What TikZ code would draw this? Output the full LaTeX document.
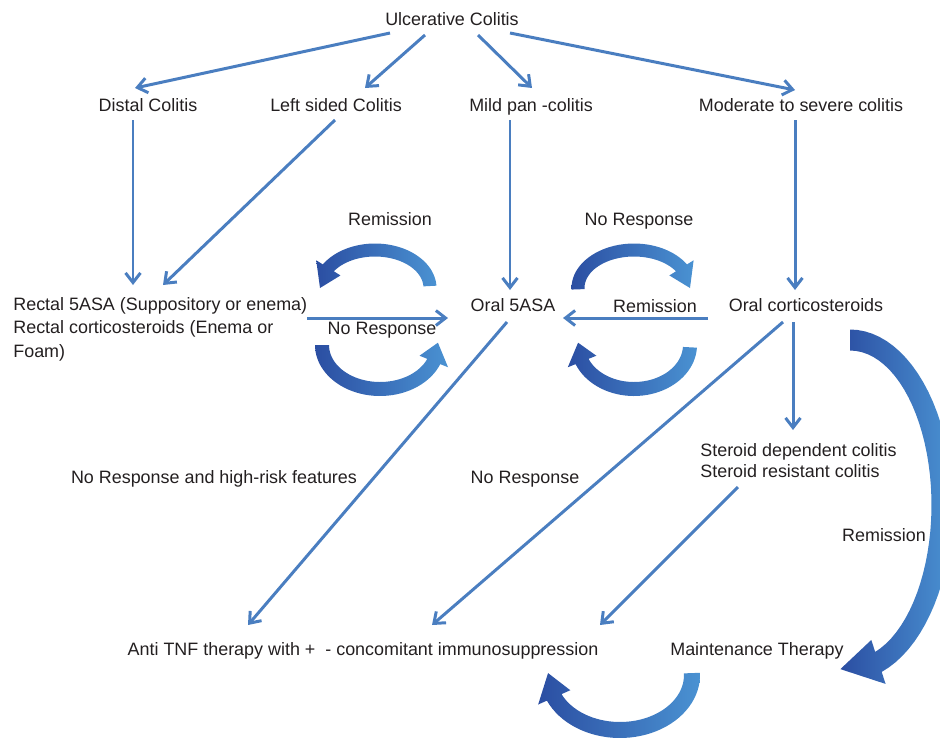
\documentclass[tikz,border=0pt]{standalone}
\usepackage{fontspec}
\setmainfont{Liberation Sans}
\usetikzlibrary{arrows.meta, calc}
\definecolor{flowblue}{HTML}{4A7EC0}
\definecolor{arcdark}{HTML}{2B4EA2}
\definecolor{arclight}{HTML}{4A92D2}
\definecolor{inktext}{HTML}{231F20}

% fat shaded arc arrow: cx, cy, rx, ry, width, start angle, head angle, tip angle
\newcommand{\fatarc}[8]{%
  \shade[left color=arcdark, right color=arclight]
    plot[domain=#6:#7, samples=40] ({#1+(#3+#5/2)*cos(\x)}, {#2+(#4+#5/2)*sin(\x)})
    -- ({#1+(#3+#5*1.1)*cos(#7)}, {#2+(#4+#5*1.1)*sin(#7)})
    -- ({#1+#3*cos(#8)}, {#2+#4*sin(#8)})
    -- ({#1+(#3-#5*1.1)*cos(#7)}, {#2+(#4-#5*1.1)*sin(#7)})
    -- plot[domain=#7:#6, samples=40] ({#1+(#3-#5/2)*cos(\x)}, {#2+(#4-#5/2)*sin(\x)})
    -- cycle;}

\begin{document}
\begin{tikzpicture}[x=0.02cm, y=-0.02cm,
    lbl/.style={inner sep=0pt, text=inktext, font=\fontsize{10.2}{13.3}\selectfont},
    one/.style={lbl, text height=7.4pt, text depth=0.5pt},
    flow/.style={draw=flowblue, line width=1.7pt, -{Straight Barb[length=5.5pt, width=8.5pt]}}]
  \useasboundingbox (0,0) rectangle (940,738);

  % Nodes
  \node[one] (uc) at (452,19) {Ulcerative Colitis};
  \node[one] (distal) at (148,105) {Distal Colitis};
  \node[one] (leftsided) at (336,105) {Left sided Colitis};
  \node[one] (mildpan) at (531,105) {Mild pan -colitis};
  \node[one] (modsevere) at (801,105) {Moderate to severe colitis};
  \node[lbl, align=left, anchor=north west] (rectal) at (13,297)
    {Rectal 5ASA (Suppository or enema)\\Rectal corticosteroids (Enema or\\Foam)};
  \node[one] (oralasa) at (513,305) {Oral 5ASA};
  \node[one] (oralcort) at (806,305) {Oral corticosteroids};
  \node[lbl, align=left, anchor=north west] (steroid) at (700,443)
    {Steroid dependent colitis\\[-1.4pt]Steroid resistant colitis};
  \node[one] (antitnf) at (363,649) {Anti TNF therapy with +~ - concomitant immunosuppression};
  \node[one] (maint) at (757,649) {Maintenance Therapy};

  % Labels
  \node[one] (remleft) at (390,219) {Remission};
  \node[one] (norespright) at (639,219) {No Response};
  \node[one] (remmid) at (655,306) {Remission};
  \node[one] (norespmid) at (382,328) {No Response};
  \node[one] (noresphigh) at (214,477) {No Response and high-risk features};
  \node[one] (noresplow) at (525,477) {No Response};
  \node[one] (remfar) at (884,535) {Remission};

  % Arrows
  \draw[flow] ($(uc)+(-62,14)$) -- ($(distal)+(-13,-17)$);
  \draw[flow] ($(uc)+(-27,16)$) -- ($(leftsided)+(29,-17)$);
  \draw[flow] ($(uc)+(26,16)$) -- ($(mildpan)+(1,-17)$);
  \draw[flow] ($(uc)+(58,14)$) -- ($(modsevere)+(-6,-15)$);
  \draw[flow] ($(distal)+(-15,15)$) -- ($(rectal.north west)+(120,-12)$);
  \draw[flow] ($(leftsided)+(-1,15)$) -- ($(rectal.north west)+(150,-12)$);
  \draw[flow] ($(mildpan)+(-21,15)$) -- ($(oralasa)+(-3,-15)$);
  \draw[flow] ($(modsevere)+(-6,15)$) -- ($(oralcort)+(-11,-15)$);
  \draw[flow] ($(rectal.north west)+(294,21)$) -- ($(oralasa)+(-65,13)$);
  \draw[flow] ($(oralcort)+(-98,13)$) -- ($(oralasa)+(50,13)$);
  \draw[flow] ($(oralasa)+(-6,17)$) -- ($(antitnf)+(-115,-24)$);
  \draw[flow] ($(oralcort)+(-23,17)$) -- ($(antitnf)+(69,-24)$);
  \draw[flow] ($(oralcort)+(-13,17)$) -- ($(steroid.north west)+(93,-13)$);
  \draw[flow] ($(steroid.north west)+(38,44)$) -- ($(antitnf)+(237,-24)$);

  % Curved arrows
  \fatarc{375}{288}{55}{38}{13}{-3}{-148}{-180}
  \fatarc{380}{345}{58}{44}{14}{180}{22}{-3}
  \fatarc{634}{288}{56}{38}{13}{-182}{-32}{0}
  \fatarc{634}{345}{56}{44}{14}{3}{158}{183}
  \fatarc{620}{675}{72}{55}{16}{-2}{156}{182}
  \fatarc{850}{505}{92}{165}{21}{-90}{72}{96}
\end{tikzpicture}
\end{document}
